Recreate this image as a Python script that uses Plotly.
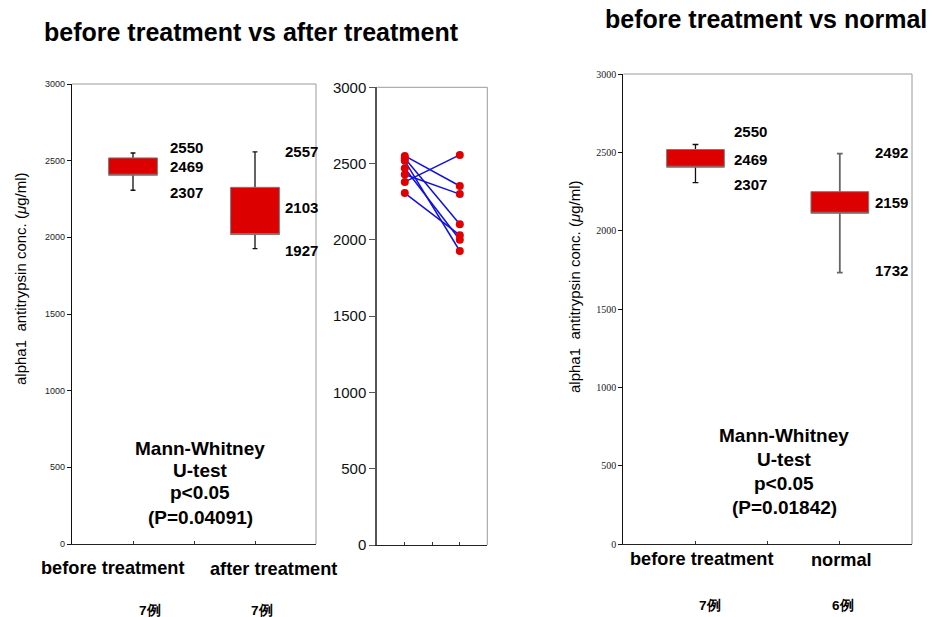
import plotly.graph_objects as go

W, H = 933, 617

# ---- data -------------------------------------------------------------
groups_left = ["before treatment", "after treatment"]
groups_right = ["before treatment", "normal"]
n_left = ["7例", "7例"]
n_right = ["7例", "6例"]

# summary values per group: min, median, max and box edges (quartiles)
bt_min, bt_med, bt_max = 2307, 2469, 2550
bt_q1, bt_q3 = 2405, 2518
at_min, at_med, at_max = 1927, 2103, 2557
at_q1, at_q3 = 2018, 2326
nm_min, nm_med, nm_max = 1732, 2159, 2492
nm_q1, nm_q3 = 2111, 2249

# paired individual values (before -> after)
paired_before = [2550, 2535, 2518, 2469, 2429, 2380, 2307]
paired_after = [2353, 2103, 1927, 2001, 2300, 2557, 2031]

y_ticks = [0, 500, 1000, 1500, 2000, 2500, 3000]
stats_left = ["Mann-Whitney", "U-test", "p<0.05", "(P=0.04091)"]
stats_right = ["Mann-Whitney", "U-test", "p<0.05", "(P=0.01842)"]

RED = "#dd0000"
SANS = "Liberation Sans, Arial, Helvetica, sans-serif"
SERIF = "Liberation Serif, Times New Roman, serif"


def px_x(v):
    return v / W


def px_y(v):
    return 1 - v / H


fig = go.Figure()


def add_box(xaxis, yaxis, pos, lo, med, hi, q1, q3,
            wcolor="#111111", wwidth=1.3):
    # whisker (min..max) with small caps, box collapsed onto the median
    fig.add_trace(go.Box(
        x=[pos], q1=[med], median=[med], q3=[med],
        lowerfence=[lo], upperfence=[hi], width=0.8, whiskerwidth=0.1,
        line=dict(color=wcolor, width=wwidth), fillcolor="rgba(0,0,0,0)",
        boxpoints=False, xaxis=xaxis, yaxis=yaxis, showlegend=False,
        hoverinfo="skip"))
    # filled interquartile box on top
    fig.add_trace(go.Box(
        x=[pos], q1=[q1], median=[q1], q3=[q3],
        lowerfence=[q1], upperfence=[q3], width=0.8, whiskerwidth=0,
        line=dict(color="#7a7a7a", width=1), fillcolor=RED,
        boxpoints=False, xaxis=xaxis, yaxis=yaxis, showlegend=False,
        hoverinfo="skip"))


# left panel: before vs after
add_box("x", "y", 1, bt_min, bt_med, bt_max, bt_q1, bt_q3)
add_box("x", "y", 3, at_min, at_med, at_max, at_q1, at_q3)

# middle panel: paired lines
for b, a in zip(paired_before, paired_after):
    fig.add_trace(go.Scatter(
        x=[1, 3], y=[b, a], mode="lines",
        line=dict(color="#1010dd", width=1.5),
        xaxis="x2", yaxis="y2", showlegend=False, hoverinfo="skip"))
fig.add_trace(go.Scatter(
    x=[1] * len(paired_before) + [3] * len(paired_after),
    y=paired_before + paired_after, mode="markers",
    marker=dict(color="#e00000", size=8),
    xaxis="x2", yaxis="y2", showlegend=False, hoverinfo="skip"))

# right panel: before vs normal
add_box("x3", "y3", 1, bt_min, bt_med, bt_max, bt_q1, bt_q3)
add_box("x3", "y3", 3, nm_min, nm_med, nm_max, nm_q1, nm_q3,
        wcolor="#666666", wwidth=1.8)

# ---- axes ---------------------------------------------------------------
xdoms = {
    "": (72, 316),
    "2": (377.3, 487.3),
    "3": (623.3, 912),
}
ydoms = {
    "": (544, 84),
    "2": (545, 87.3),
    "3": (544, 74),
}
tickfonts = {
    "": dict(family=SANS, size=9, color="#222"),
    "2": dict(family=SANS, size=15, color="#111"),
    "3": dict(family=SERIF, size=10, color="#222"),
}
ylinecol = {"": "#111", "2": "#555", "3": "#111"}
ylinew = {"": 1.2, "2": 2, "3": 1.2}
yticklen = {"": 4, "2": 6, "3": 4}

layout = dict(
    width=W, height=H, margin=dict(l=0, r=0, t=0, b=0, autoexpand=False),
    paper_bgcolor="white", plot_bgcolor="white", boxmode="overlay",
)
for k in ["", "2", "3"]:
    x0, x1 = xdoms[k]
    yb, yt = ydoms[k]
    layout["xaxis" + k] = dict(
        domain=[px_x(x0), px_x(x1)], range=[0, 4], tickvals=[1, 2, 3],
        ticks="inside", ticklen=3, tickcolor="#333", showticklabels=False,
        showline=True, linecolor="#222", linewidth=1.2, zeroline=False,
        showgrid=False, anchor="y" + k, fixedrange=True, automargin=False)
    layout["yaxis" + k] = dict(
        domain=[px_y(yb), px_y(yt)], range=[0, 3000], tickvals=y_ticks,
        ticks="outside", ticklen=yticklen[k], tickcolor=ylinecol[k],
        tickfont=tickfonts[k], showline=True, linecolor=ylinecol[k],
        linewidth=ylinew[k], zeroline=False, showgrid=False,
        anchor="x" + k, fixedrange=True, automargin=False)

fig.update_layout(**layout)

# grey top/right frame of each panel
shapes = []
for k in ["", "2", "3"]:
    xr = ("x" + k) + " domain"
    yr = ("y" + k) + " domain"
    shapes.append(dict(type="line", xref=xr, yref=yr, x0=0, x1=1, y0=1, y1=1,
                       line=dict(color="#9a9a9a", width=1)))
    shapes.append(dict(type="line", xref=xr, yref=yr, x0=1, x1=1, y0=0, y1=1,
                       line=dict(color="#9a9a9a", width=1)))
fig.update_layout(shapes=shapes)

# ---- text ---------------------------------------------------------------
ann = []


def text(xp, yp, s, size, bold=True, family=SANS, angle=0, xanchor="center"):
    ann.append(dict(
        x=px_x(xp), y=px_y(yp), xref="paper", yref="paper", text=s,
        showarrow=False, xanchor=xanchor, yanchor="middle", textangle=angle,
        font=dict(family=family, size=size, color="#000",
                  weight="bold" if bold else "normal")))


def value_label(xa, ya, xpos, val, shift):
    ann.append(dict(
        x=xpos, y=val, xref=xa, yref=ya, text=str(val), showarrow=False,
        xanchor="left", yanchor="middle", yshift=shift,
        font=dict(family=SANS, size=15, color="#000", weight="bold")))


text(251, 32, "before treatment vs after treatment", 25)
text(766, 19, "before treatment vs normal", 25)

text(20, 279, "alpha1  antitrypsin conc. (<i>μ</i>g/ml)", 15, bold=False, angle=-90)
text(575, 287, "alpha1  antitrypsin conc. (<i>μ</i>g/ml)", 15, bold=False, angle=-90)

value_label("x", "y", 1.57, bt_max, 6)
value_label("x", "y", 1.57, bt_med, -1)
value_label("x", "y", 1.57, bt_min, -2)
value_label("x", "y", 3.46, at_max, 0)
value_label("x", "y", 3.46, at_med, 14)
value_label("x", "y", 3.46, at_min, -2)

value_label("x3", "y3", 1.50, bt_max, 13)
value_label("x3", "y3", 1.50, bt_med, -2)
value_label("x3", "y3", 1.50, bt_min, -2)
value_label("x3", "y3", 3.46, nm_max, 1)
value_label("x3", "y3", 3.46, nm_med, 3)
value_label("x3", "y3", 3.46, nm_min, 2)

# test result blocks, one line at a time
for line, yy in zip(stats_left, [448, 470, 493, 517]):
    text(200, yy, line, 19)
for line, yy in zip(stats_right, [435, 459, 483, 507]):
    text(784, yy, line, 19)

text(113, 568, groups_left[0], 18.2)
text(273, 569, groups_left[1], 18.2)
text(150, 610, n_left[0], 13.5)
text(262, 610, n_left[1], 13.5)

text(702, 559, groups_right[0], 18.2)
text(841, 560, groups_right[1], 18.2)
text(710, 605, n_right[0], 13.5)
text(843, 605, n_right[1], 13.5)

fig.update_layout(annotations=ann)

fig.write_html("out.html")
